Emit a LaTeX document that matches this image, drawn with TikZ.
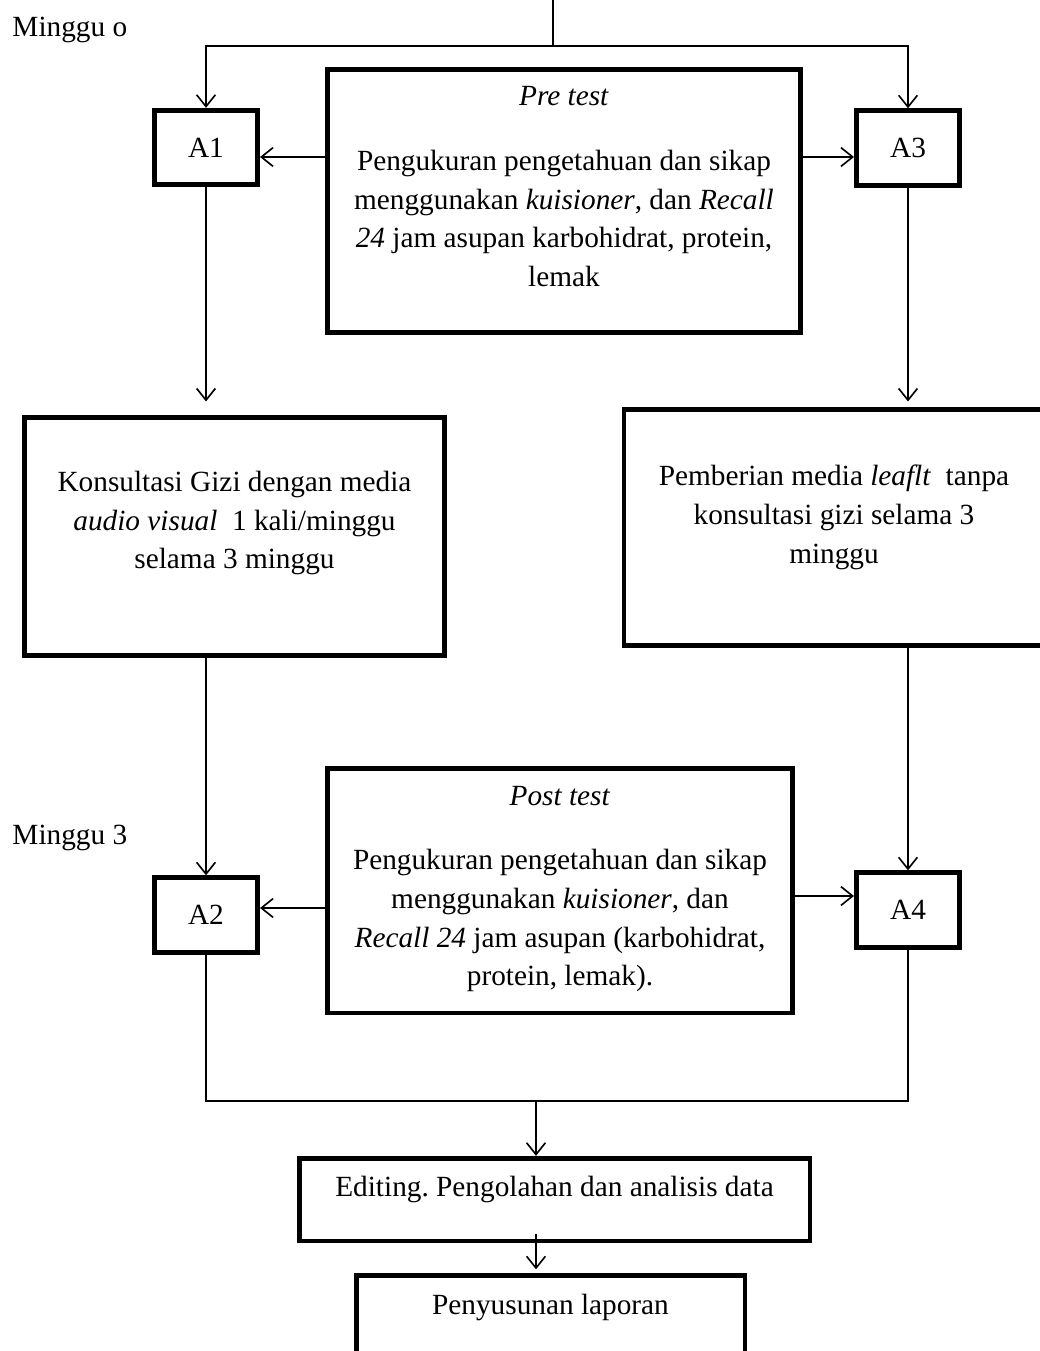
\documentclass[tikz,border=0pt]{standalone}
\usepackage{fontspec}
\setmainfont{Liberation Serif}
\usetikzlibrary{arrows.meta,positioning}
\tikzset{
  box/.style={draw, line width=2pt, align=center, inner sep=0pt},
  abox/.style={box, minimum width=1.55cm, minimum height=1.12cm, font=\fontsize{12.5}{16.5}\selectfont},
  txt/.style={align=center, inner sep=0pt, font=\fontsize{12.5}{16.5}\selectfont},
  ln/.style={line width=0.7pt},
  ar/.style={-{Straight Barb[length=5pt,width=8pt,line width=0.7pt]}, line width=0.7pt}
}
\begin{document}
\begin{tikzpicture}
  \useasboundingbox (0,0) rectangle (15.6,-20.265);

  \node[txt, anchor=west] (mingguA) at (0.18,-0.45) {Minggu o};
  \node[txt, anchor=west] (mingguB) at (0.18,-12.57) {Minggu 3};

  \node[box, minimum width=7.1cm, minimum height=3.95cm] (pretest) at (8.46,-3.015) {};
  \node[txt, below=0.29cm of pretest.north] (pretestTxt) {\textit{Pre test}\\[11pt]
    Pengukuran pengetahuan dan sikap\\
    menggunakan \textit{kuisioner}, dan \textit{Recall}\\
    \textit{24} jam asupan karbohidrat, protein,\\
    lemak};

  \node[abox] (A1) at (3.09,-2.2125) {A1};
  \node[abox] (A3) at (13.62,-2.22) {A3};

  \node[box, minimum width=6.3cm, minimum height=3.58cm] (konsul) at (3.5175,-8.0475) {};
  \node[txt, below=0.84cm of konsul.north] (konsulTxt) {Konsultasi Gizi dengan media\\
    \textit{audio visual}\ \ 1 kali/minggu\\
    selama 3 minggu};

  \node[box, minimum width=6.3cm, minimum height=3.55cm] (beri) at (12.51,-7.9125) {};
  \node[txt, below=0.87cm of beri.north] (beriTxt) {Pemberian media \textit{leaflt}\ \ tanpa\\
    konsultasi gizi selama 3\\
    minggu};

  \node[box, minimum width=6.98cm, minimum height=3.67cm] (posttest) at (8.4,-13.3575) {};
  \node[txt, below=0.3cm of posttest.north] (posttestTxt) {\textit{Post test}\\[11pt]
    Pengukuran pengetahuan dan sikap\\
    menggunakan \textit{kuisioner}, dan\\
    \textit{Recall 24} jam asupan (karbohidrat,\\
    protein, lemak).};

  \node[abox] (A2) at (3.09,-13.725) {A2};
  \node[abox] (A4) at (13.62,-13.65) {A4};

  \node[box, minimum width=7.66cm, minimum height=1.24cm] (edit) at (8.3175,-17.9925) {};
  \node[txt, below=0.3cm of edit.north] (editTxt) {Editing.\ Pengolahan dan analisis data};

  \node[box, anchor=north, minimum width=5.83cm, minimum height=1.6cm] (susun) at (8.2575,-19.1) {};
  \node[txt, below=0.3cm of susun.north] (susunTxt) {Penyusunan laporan};

  \coordinate (start) at (8.295,0);
  \coordinate (fork) at (8.295,-0.69);
  \coordinate (join) at (8.04,-16.515);

  \draw[ln] (start) -- (fork);
  \draw[ar] (fork) -| (A1.north);
  \draw[ar] (fork) -| (A3.north);
  \draw[ar] (pretest.west |- 0,-2.355) -- (A1.east |- 0,-2.355);
  \draw[ar] (pretest.east |- 0,-2.355) -- (A3.west |- 0,-2.355);
  \draw[ar, shorten >=0.2cm] (A1) -- (A1 |- konsul.north);
  \draw[ar, shorten >=0.08cm] (A3) -- (A3 |- beri.north);
  \draw[ar] (A2 |- konsul.south) -- (A2);
  \draw[ar] (A4 |- beri.south) -- (A4);
  \draw[ar] (posttest.west |- 0,-13.62) -- (A2.east |- 0,-13.62);
  \draw[ar] (posttest.east |- 0,-13.44) -- (A4.west |- 0,-13.44);
  \draw[ln] (A2) |- (join) -| (A4);
  \draw[ar] (join) -- (join |- edit.north);
  \draw[ar, shorten >=0.06cm] (join |- 0,-18.51) -- (join |- susun.north);
\end{tikzpicture}
\end{document}
